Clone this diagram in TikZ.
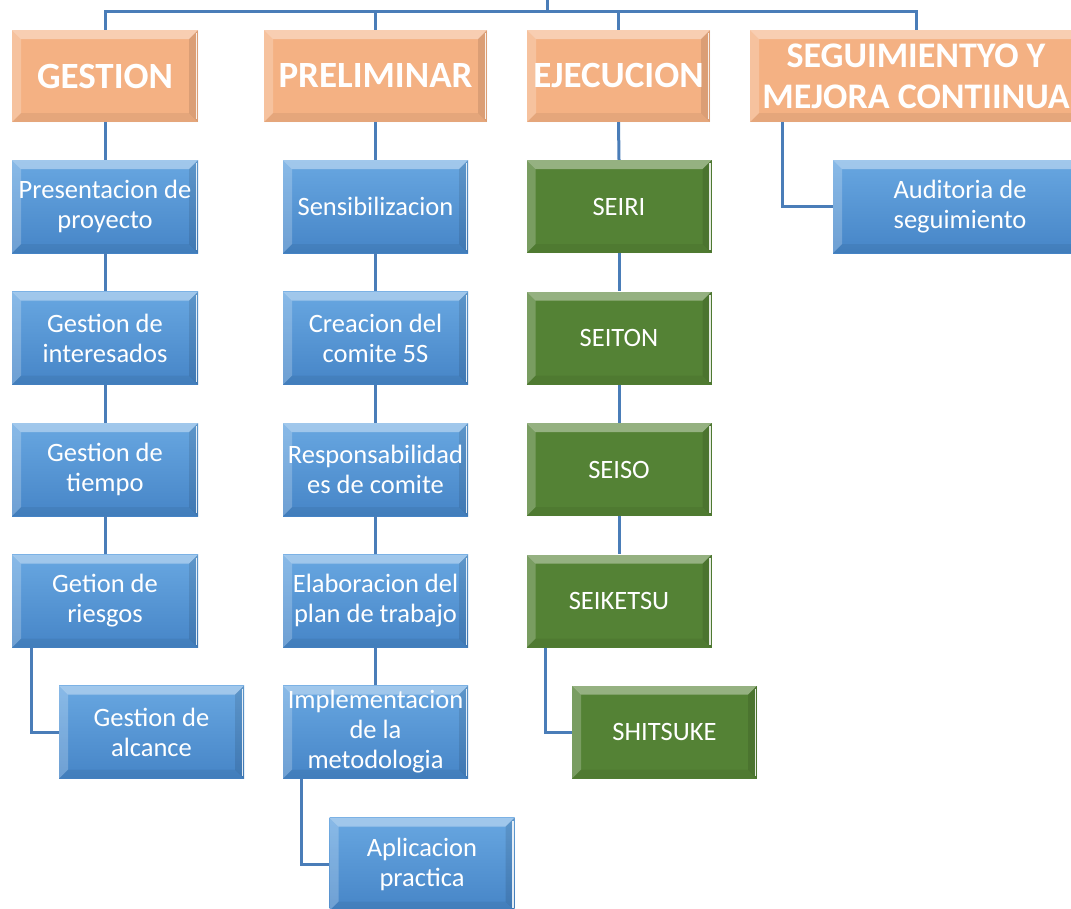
\documentclass[tikz,border=0pt]{standalone}
\usepackage{fontspec}
\setmainfont{Carlito}
\definecolor{headfill}{HTML}{F4B183}
\definecolor{taskhi}{HTML}{68A7E1}
\definecolor{tasklo}{HTML}{4685C7}
\definecolor{stagefill}{HTML}{548235}
\definecolor{linkblue}{HTML}{4A7DB8}
\begin{document}
\begin{tikzpicture}[x=1pt,y=-1pt,
  bevel/.style={path picture={
    \fill[white,opacity=.38] (path picture bounding box.north west) -- (path picture bounding box.north east)
      -- ([shift={(-9,9)}]path picture bounding box.north east) -- ([shift={(9,9)}]path picture bounding box.north west) -- cycle;
    \fill[white,opacity=.22] (path picture bounding box.north west) -- ([shift={(9,9)}]path picture bounding box.north west)
      -- ([shift={(9,-9)}]path picture bounding box.south west) -- (path picture bounding box.south west) -- cycle;
    \fill[black,opacity=.06] (path picture bounding box.south west) -- ([shift={(9,-9)}]path picture bounding box.south west)
      -- ([shift={(-9,-9)}]path picture bounding box.south east) -- (path picture bounding box.south east) -- cycle;
    \fill[black,opacity=.10] (path picture bounding box.north east) -- ([shift={(-9,9)}]path picture bounding box.north east)
      -- ([shift={(-9,-9)}]path picture bounding box.south east) -- (path picture bounding box.south east) -- cycle;
    \draw[white,opacity=.85,line width=1.6pt] ([shift={(-1.5,3)}]path picture bounding box.north east)
      -- ([shift={(-1.5,-3)}]path picture bounding box.south east);
  }},
  box/.style={bevel,minimum width=185pt,minimum height=93pt,inner sep=0pt,align=center,
    text=white,font=\fontsize{26.5}{30}\selectfont},
  head/.style={box,fill=headfill,minimum height=92pt,font=\bfseries\fontsize{37}{42}\selectfont},
  task/.style={box,top color=taskhi,bottom color=tasklo},
  stage/.style={box,fill=stagefill},
  link/.style={draw=linkblue,line width=3pt}]

\useasboundingbox (0,0) rectangle (1071,908);
\clip (0,0) rectangle (1071,908);

% phase headers
\node[head,minimum width=186pt] (gestion) at (105,76) {GESTION};
\node[head,minimum width=223pt] (prelim) at (375.5,76) {PRELIMINAR};
\node[head,minimum width=183pt] (ejec) at (618.5,76) {EJECUCION};
\node[head,minimum width=332pt,font=\bfseries\fontsize{36}{41}\selectfont] (seg) at (916,76) {SEGUIMIENTYO Y\\MEJORA CONTIINUA};

% management tasks
\node[task,minimum width=186pt] (pres) at (105,206.5) {Presentacion de\\proyecto};
\node[task,minimum width=186pt] (inter) at (105,338) {Gestion de\\interesados};
\node[task,minimum width=186pt] (tiempo) at (105,469.5) {Gestion de\\tiempo};
\node[task,minimum width=186pt] (riesgos) at (105,601) {Getion de\\riesgos};
\node[task] (alcance) at (151.5,732) {Gestion de\\alcance};

% preliminary tasks
\node[task] (sensib) at (375.5,206.5) {Sensibilizacion};
\node[task] (comite) at (375.5,338) {Creacion del\\comite 5S};
\node[task] (resp) at (375.5,469.5) {Responsabilidad\\es de comite};
\node[task] (plan) at (375.5,601) {Elaboracion del\\plan de trabajo};
\node[task] (impl) at (375.5,732) {Implementacion\\de la\\metodologia};
\node[task] (aplic) at (422,864) {Aplicacion\\practica};

% the five S
\node[stage] (seiri) at (619,206.5) {SEIRI};
\node[stage] (seiton) at (619,338) {SEITON};
\node[stage] (seiso) at (619,469.5) {SEISO};
\node[stage] (seiketsu) at (619,601) {SEIKETSU};
\node[stage] (shitsuke) at (664.5,732) {SHITSUKE};

% follow-up
\node[task,minimum width=254pt] (audit) at (960,206.5) {Auditoria de\\seguimiento};

% top bus
\coordinate (root) at (547,-2);
\coordinate (bus) at (547,11.5);
\draw[link] (root) -- (bus);
\foreach \n in {gestion,prelim,ejec,seg}
  \draw[link] (\n.north) |- (bus);

% column chains
\draw[link] (gestion.south) -- (pres.north);
\draw[link] (pres.south) -- (inter.north);
\draw[link] (inter.south) -- (tiempo.north);
\draw[link] (tiempo.south) -- (riesgos.north);
\draw[link] ([xshift=20pt]riesgos.south west) |- (alcance.west);

\draw[link] (prelim.south) -- (sensib.north);
\draw[link] (sensib.south) -- (comite.north);
\draw[link] (comite.south) -- (resp.north);
\draw[link] (resp.south) -- (plan.north);
\draw[link] (plan.south) -- (impl.north);
\draw[link] ([xshift=19pt]impl.south west) |- (aplic.west);

\draw[link] (ejec.south) -- (seiri.north);
\draw[link] (seiri.south) -- (seiton.north);
\draw[link] (seiton.south) -- (seiso.north);
\draw[link] (seiso.south) -- (seiketsu.north);
\draw[link] ([xshift=19pt]seiketsu.south west) |- (shitsuke.west);

\draw[link] ([xshift=33pt]seg.south west) |- (audit.west);
\end{tikzpicture}
\end{document}
